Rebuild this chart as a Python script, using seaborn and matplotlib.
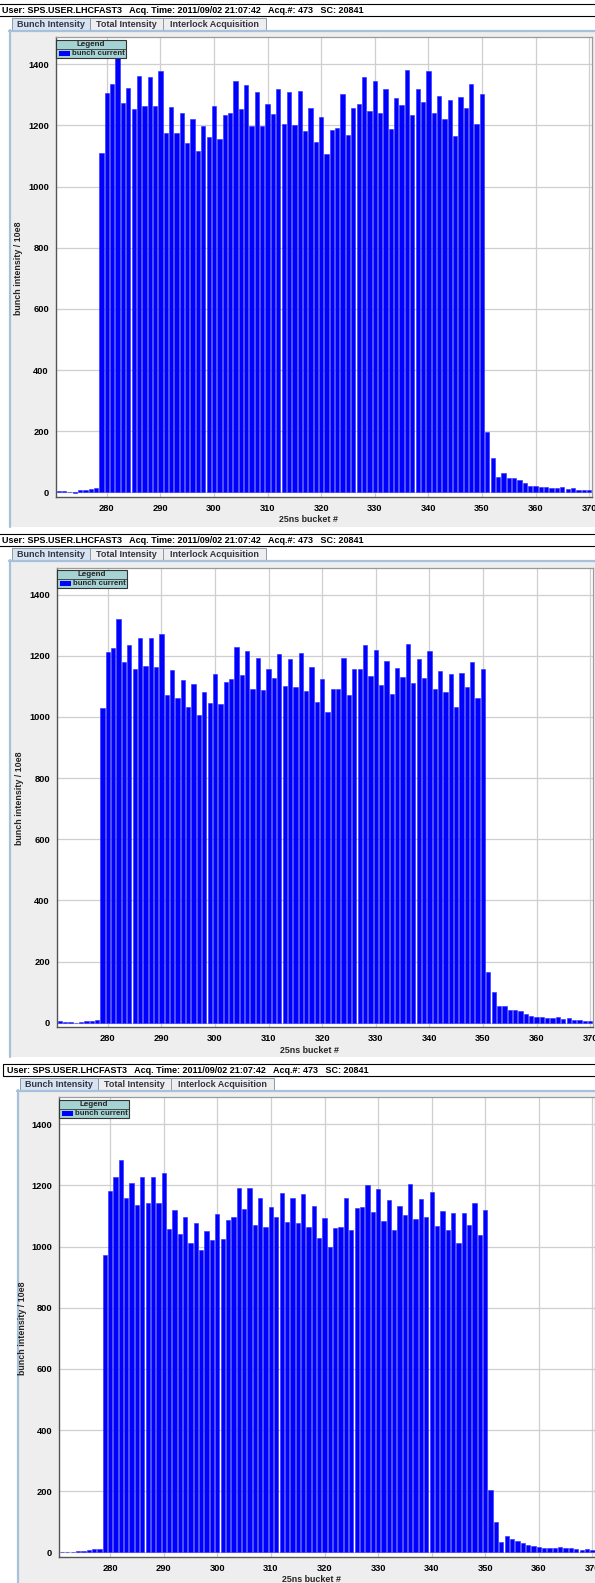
import numpy as np
import pandas as pd
import matplotlib
matplotlib.use("Agg")
import matplotlib.pyplot as plt
import seaborn as sns
from matplotlib.patches import Rectangle

# ---------------- data ----------------
buckets = list(range(271, 371))

panel1_values = [
    4, 4, 2, -3, 9, 7, 11, 16,
    1110, 1306, 1334, 1434, 1274, 1322, 1252, 1362, 1265, 1358, 1265, 1379,
    1175, 1261, 1175, 1239, 1141, 1222, 1115, 1198, 1163, 1263, 1154, 1235,
    1239, 1345, 1252, 1332, 1198, 1308, 1198, 1271, 1237, 1319, 1206,
    1308, 1202, 1312, 1181, 1256, 1146, 1226, 1107, 1185, 1192, 1302, 1168,
    1258, 1271, 1357, 1248, 1346, 1239, 1318, 1189, 1289, 1267, 1380, 1235,
    1318, 1278, 1378, 1239, 1295, 1222, 1284, 1166, 1292, 1256, 1336, 1206, 1302,
    196, 111, 52, 63, 48, 46, 39, 30, 22, 20, 18, 18, 16, 15, 18, 11, 15, 9, 9, 7,
]

panel2_values = [
    4, 3, 1, -2, 3, 4, 7, 9,
    1030, 1212, 1226, 1319, 1180, 1234, 1158, 1257, 1165, 1257, 1163, 1271,
    1073, 1152, 1063, 1119, 1032, 1108, 1006, 1080, 1045, 1140, 1041, 1115,
    1124, 1228, 1137, 1215, 1091, 1191, 1087, 1156, 1128, 1205, 1102,
    1189, 1098, 1208, 1086, 1162, 1049, 1124, 1017, 1092, 1090, 1192, 1072,
    1155, 1157, 1236, 1134, 1220, 1105, 1184, 1075, 1160, 1131, 1239, 1112,
    1188, 1127, 1216, 1092, 1150, 1081, 1140, 1033, 1144, 1096, 1178, 1062, 1158,
    165, 100, 55, 55, 42, 40, 38, 28, 22, 20, 18, 15, 17, 18, 12, 14, 10, 9, 7, 6,
]

panel3_values = [
    2, 2, 1, 3, 5, 8, 12, 12,
    972, 1183, 1229, 1284, 1159, 1207, 1137, 1227, 1144, 1227, 1142, 1240,
    1056, 1120, 1041, 1096, 1012, 1076, 988, 1050, 1021, 1107, 1024, 1087,
    1096, 1192, 1122, 1191, 1069, 1159, 1063, 1128, 1098, 1176,
    1080, 1159, 1077, 1172, 1064, 1133, 1027, 1093, 1000, 1062, 1064, 1159,
    1053, 1126, 1130, 1200, 1112, 1187, 1083, 1152, 1055, 1133, 1104, 1205,
    1090, 1157, 1098, 1179, 1067, 1115, 1053, 1109, 1012, 1109, 1071, 1144, 1039, 1120,
    205, 100, 35, 55, 45, 38, 30, 25, 20, 18, 16, 15, 15, 17, 14, 14, 12, 8, 10, 7,
]

x_ticks = [280, 290, 300, 310, 320, 330, 340, 350, 360, 370]
y_ticks = [0, 200, 400, 600, 800, 1000, 1200, 1400]
header_text = "User: SPS.USER.LHCFAST3   Acq. Time: 2011/09/02 21:07:42   Acq.#: 473   SC: 20841"
tab_labels = ["Bunch Intensity", "Total Intensity", "Interlock Acquisition"]
y_label = "bunch intensity / 10e8"
x_label = "25ns bucket #"
legend_title = "Legend"
series_name = "bunch current"

# ---------------- style ----------------
sns.set_style("white")
plt.rcParams["font.family"] = ["Liberation Sans", "DejaVu Sans"]
plt.rcParams["font.weight"] = "bold"

W, H = 595, 1583
fig = plt.figure(figsize=(W / 100, H / 100), dpi=100)
fig.patch.set_facecolor("white")

bg = fig.add_axes([0, 0, 1, 1], zorder=0)
bg.set_xlim(0, W)
bg.set_ylim(H, 0)
bg.axis("off")

ov = fig.add_axes([0, 0, 1, 1], zorder=20)
ov.set_xlim(0, W)
ov.set_ylim(H, 0)
ov.axis("off")
ov.patch.set_alpha(0)

BAR_BLUE = "#0000ff"
PANE_GRAY = "#eeeeee"
TAB_BLUE = "#d6e4f1"
EDGE_BLUE = "#a7c0dc"
LEG_FILL = "#a5d2d2"


def px_axes(x0, y0, x1, y1, z=5):
    return fig.add_axes([x0 / W, 1 - y1 / H, (x1 - x0) / W, (y1 - y0) / H], zorder=z)


def draw_panel(vals, dx, dy, tdx, hdx):
    # header strip
    bg.add_patch(Rectangle((hdx - 2, dy + 4), 600, 12, fc="white", ec="black", lw=0.8))
    bg.text(hdx + 2, dy + 10.3, header_text, fontsize=6.45, fontweight="bold",
            va="center", ha="left", color="black")
    # content pane
    bg.add_patch(Rectangle((tdx + 9, dy + 30), 620, 497, fc=PANE_GRAY, ec="none"))
    bg.plot([tdx + 9.5, tdx + 9.5], [dy + 30, dy + 527], color=EDGE_BLUE, lw=1.6)
    bg.plot([tdx + 9, W], [dy + 30.5, dy + 30.5], color=EDGE_BLUE, lw=1.6)
    # tabs
    tabs = [(tdx + 12, tdx + 90, True), (tdx + 90, tdx + 163, False), (tdx + 163, tdx + 266, False)]
    for (x0, x1, sel), lab in zip(tabs, tab_labels):
        bg.add_patch(Rectangle((x0, dy + 18), x1 - x0, 12,
                               fc=TAB_BLUE if sel else PANE_GRAY, ec="#8c9aa8", lw=0.7))
        bg.text((x0 + x1) / 2, dy + 24.3, lab, fontsize=6.5, fontweight="bold",
                ha="center", va="center", color="#333344")

    # plot
    ax = px_axes(dx + 56, dy + 37.3, dx + 591.5, dy + 497)
    ax.set_facecolor("white")
    sns.barplot(x=buckets, y=vals, native_scale=True, width=0.8, color=BAR_BLUE,
                saturation=1, errorbar=None, ax=ax, edgecolor="#2b2bff", linewidth=0.4)
    ax.set_xlim(270.5, 370.45)
    ax.set_ylim(-15, 1488)
    ax.set_xticks(x_ticks)
    ax.set_yticks(y_ticks)
    ax.set_xticklabels([str(t) for t in x_ticks])
    ax.set_yticklabels([str(t) for t in y_ticks])
    ax.set_axisbelow(True)
    ax.grid(True, color="#cfcfcf", lw=0.9)
    ax.tick_params(axis="both", direction="out", length=3.6, width=0.8, color="#555555",
                   labelsize=6.7, pad=1.5, labelcolor="black")
    for lab in ax.get_xticklabels() + ax.get_yticklabels():
        lab.set_fontweight("bold")
    for s in ["left", "bottom"]:
        ax.spines[s].set_color("#555555")
        ax.spines[s].set_linewidth(1.0)
    for s in ["top", "right"]:
        ax.spines[s].set_color("#9a9a9a")
        ax.spines[s].set_linewidth(0.9)
    ax.set_xlabel("")
    ax.set_ylabel("")

    # axis labels (in pixel frame)
    bg.text(dx + 19, dy + 268, y_label, rotation=90, fontsize=6.4, fontweight="bold",
            ha="center", va="center")
    bg.text(dx + 308, dy + 520, x_label, fontsize=6.4, fontweight="bold",
            ha="center", va="center")

    # legend box
    lx0, ly0, lx1, ly1 = dx + 56, dy + 40, dx + 125.7, dy + 57.7
    ov.add_patch(Rectangle((lx0, ly0), lx1 - lx0, ly1 - ly0, fc=LEG_FILL, ec="#333333", lw=0.8))
    ov.plot([lx0, lx1], [dy + 49, dy + 49], color="#333333", lw=0.6)
    ov.text((lx0 + lx1) / 2, dy + 44.6, legend_title, fontsize=5.8, fontweight="bold",
            ha="center", va="center")
    ov.add_patch(Rectangle((lx0 + 2.5, dy + 51), 11, 4.5, fc=BAR_BLUE, ec="none"))
    ov.text(lx0 + 16, dy + 53.3, series_name, fontsize=5.7, fontweight="bold",
            ha="left", va="center")


draw_panel(panel1_values, 0, 0, 0, 0)
draw_panel(panel2_values, 1, 530.3, 0, 0)
draw_panel(panel3_values, 3.3, 1060, 8, 5)

fig.savefig("out.png", dpi=100, facecolor="white")
